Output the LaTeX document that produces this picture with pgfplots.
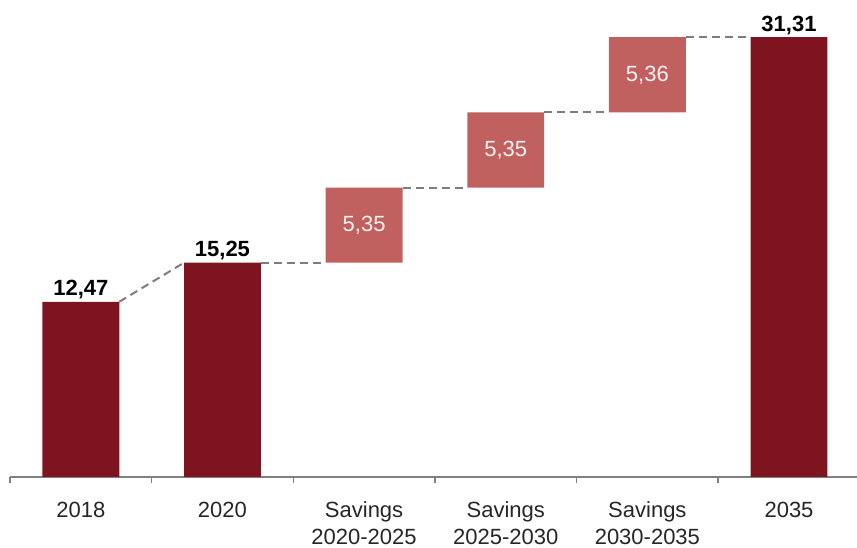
\documentclass[border=0pt]{standalone}
\usepackage{fontspec}
\setmainfont{Liberation Sans}
\usepackage{pgfplots}
\pgfplotsset{compat=1.18}
\definecolor{darkbar}{RGB}{126,20,32}
\definecolor{lightbar}{RGB}{192,97,95}
\definecolor{dashgray}{RGB}{125,125,125}
\definecolor{axisgray}{RGB}{128,128,128}
\definecolor{txt}{RGB}{38,38,38}
\begin{document}
\begin{tikzpicture}
\begin{axis}[name=ax, scale only axis, width=423.5pt, height=238.5pt,
 xmin=-0.5, xmax=5.48, ymin=0, ymax=33.95,
 enlarge x limits=false, enlarge y limits=false,
 axis x line*=bottom, axis y line=none,
 ybar stacked, bar width=0.543,
 xtick={0,...,5},
 xticklabels={2018,2020,{Savings\\2020-2025},{Savings\\2025-2030},{Savings\\2030-2035},2035},
 major tick length=0pt,
 minor xtick={-0.5,0.5,1.5,2.5,3.5,4.5},
 minor tick length=3pt, tick align=outside,
 x axis line style={axisgray, line width=0.7pt},
 every tick/.style={axisgray, line width=0.7pt},
 xticklabel style={align=center, font=\fontsize{11}{13.5}\selectfont, text=txt, yshift=-9pt},
 clip=false,
]
\addplot[fill=darkbar, draw=none]
  coordinates {(0,12.47) (1,15.25) (2,0) (3,0) (4,0) (5,31.31)};
\addplot[fill=none, draw=none]
  coordinates {(0,0) (1,0) (2,15.25) (3,20.6) (4,25.95) (5,0)};
\addplot[fill=lightbar, draw=none, point meta=explicit symbolic, nodes near coords,
  every node near coord/.append style={font=\fontsize{11}{13.5}\selectfont, text=white!92!lightbar, anchor=center}]
  coordinates {(0,0)[{}] (1,0)[{}] (2,5.35)[5,35] (3,5.35)[5,35] (4,5.36)[5,36] (5,0)[{}]};
\addplot[stack plots=false, sharp plot, dashgray, line width=1pt, dash pattern=on 4pt off 2.5pt, forget plot]
  coordinates {(0.2715,12.47) (0.7285,15.25)};
\addplot[stack plots=false, sharp plot, dashgray, line width=1pt, dash pattern=on 4pt off 2.5pt, forget plot]
  coordinates {(1.2715,15.25) (1.7285,15.25)};
\addplot[stack plots=false, sharp plot, dashgray, line width=1pt, dash pattern=on 4pt off 2.5pt, forget plot]
  coordinates {(2.2715,20.6) (2.7285,20.6)};
\addplot[stack plots=false, sharp plot, dashgray, line width=1pt, dash pattern=on 4pt off 2.5pt, forget plot]
  coordinates {(3.2715,25.95) (3.7285,25.95)};
\addplot[stack plots=false, sharp plot, dashgray, line width=1pt, dash pattern=on 4pt off 2.5pt, forget plot]
  coordinates {(4.2715,31.31) (4.7285,31.31)};
\end{axis}
\begin{axis}[scale only axis, width=423.5pt, height=238.5pt,
 xmin=-0.5, xmax=5.48, ymin=0, ymax=33.95,
 hide axis, clip=false]
\addplot[draw=none, mark=none, point meta=explicit symbolic, nodes near coords,
  every node near coord/.append style={font=\bfseries\fontsize{11}{13.5}\selectfont, text=black, anchor=base, yshift=3pt}]
  coordinates {(0,12.47)[12,47] (1,15.25)[15,25] (5,31.31)[31,31]};
\end{axis}
\pgfresetboundingbox
\path ([xshift=-5pt,yshift=-35.5pt]ax.south west) rectangle (ax.north east);
\end{tikzpicture}
\end{document}
